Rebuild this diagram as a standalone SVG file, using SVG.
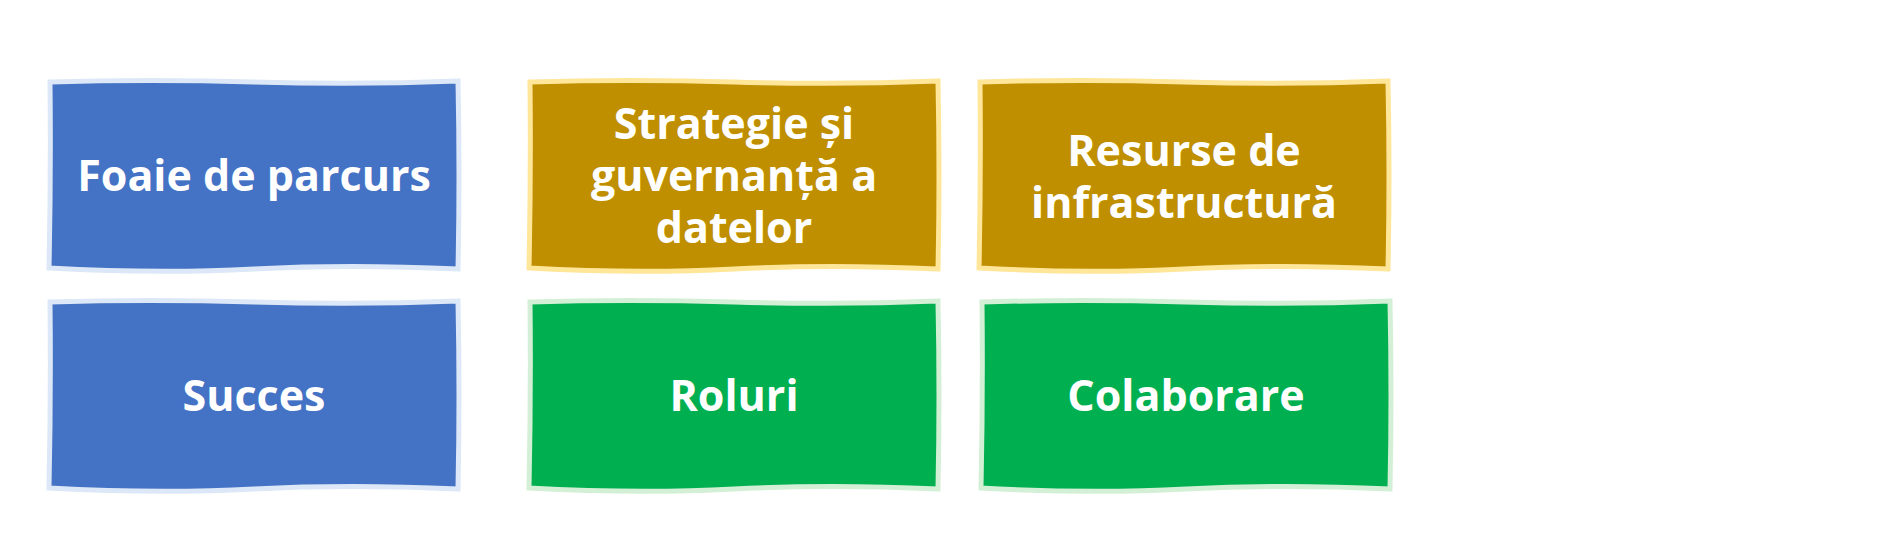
<svg xmlns="http://www.w3.org/2000/svg" xmlns:xlink="http://www.w3.org/1999/xlink" width="1899" height="560" viewBox="0 0 1899 560">
<defs>
<path id="box" d="M1,2 Q100,-1 205,2 T409,1 Q411,95 409,189 Q300,184 205,189 T0,188 Q2,95 1,2 Z"/>
<style>
.b{fill:#4472C4;stroke:#DCE8F7;stroke-width:5}
.y{fill:#BF8F00;stroke:#FFE699;stroke-width:5}
.g{fill:#00AF50;stroke:#D3F0D6;stroke-width:5}
.t{font-family:"Open Sans","Noto Sans","DejaVu Sans",sans-serif;font-weight:bold;font-size:43px;fill:#FFFFFF;text-anchor:middle}
</style>
</defs>
<rect width="1899" height="560" fill="#FFFFFF"/>
<g id="connectors"/>
<g id="n1"><use xlink:href="#box" class="b" transform="translate(49,80)"/><text class="t" x="254" y="191">Foaie de parcurs</text></g>
<g id="n2"><use xlink:href="#box" class="y" transform="translate(529,80)"/><text class="t" x="734" y="139">Strategie și<tspan x="734" dy="52">guvernanță a</tspan><tspan x="734" dy="52">datelor</tspan></text></g>
<g id="n3"><use xlink:href="#box" class="y" transform="translate(979,80)"/><text class="t" x="1184" y="166">Resurse de<tspan x="1184" dy="52">infrastructură</tspan></text></g>
<g id="n4"><use xlink:href="#box" class="b" transform="translate(49,300)"/><text class="t" x="254" y="411">Succes</text></g>
<g id="n5"><use xlink:href="#box" class="g" transform="translate(529,300)"/><text class="t" x="734" y="411">Roluri</text></g>
<g id="n6"><use xlink:href="#box" class="g" transform="translate(981,300)"/><text class="t" x="1186" y="411">Colaborare</text></g>
</svg>
